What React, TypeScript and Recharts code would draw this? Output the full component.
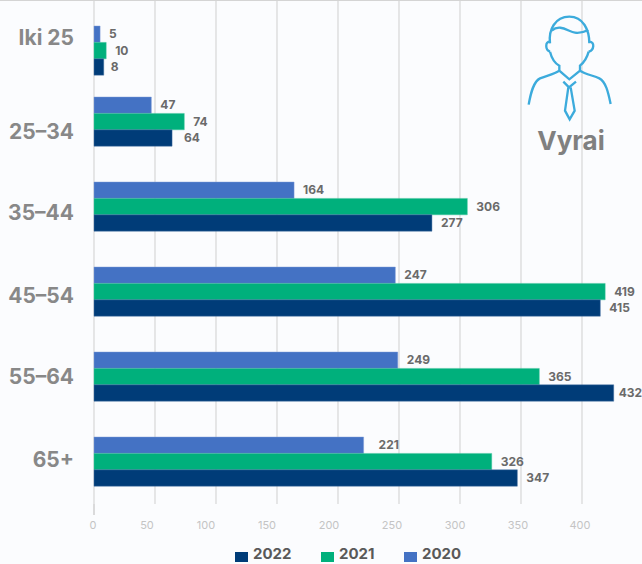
import React from 'react';
import { BarChart, Bar, XAxis, YAxis, CartesianGrid, Legend, LabelList, Rectangle } from 'recharts';

// duomenys
const categories = ['Iki 25', '25–34', '35–44', '45–54', '55–64', '65+'];
const values2020 = [5, 47, 164, 247, 249, 221];
const values2021 = [10, 74, 306, 419, 365, 326];
// 55–64 stulpelis paveiksle trumpesnis nei jo uzrasas
const values2022 = [8, 64, 277, 415, 426, 347];
const labels2022 = [8, 64, 277, 415, 432, 347];
const xTicks = [0, 50, 100, 150, 200, 250, 300, 350, 400];

const chartData = categories.map((name, i) => ({
  name,
  y2020: values2020[i],
  y2021: values2021[i],
  y2022: values2022[i],
  label2022: labels2022[i],
}));

const FONT = 'Inter, "Open Sans", sans-serif';
const COLOR_2020 = '#4472c4';
const COLOR_2021 = '#00b07c';
const COLOR_2022 = '#003c78';

// pirma grupe reference paslinkta zemyn
const groupShift = (index: number) => (index === 0 ? 14 : 0);
// asies uzrasai nesutampa su tinklelio linijomis
const xLabelShift = [-1, -8, -10, -10, -9, -7, -5, -3, -2];
const yLabelShift = [0, 9, 5, 3, -1, -3];

const BarShape = (props: any) => {
  const { x, y, width, height, fill, stroke, index } = props;
  return (
    <Rectangle
      x={x}
      y={y + groupShift(index)}
      width={width}
      height={height}
      fill={fill}
      stroke={stroke}
      strokeOpacity={0.45}
      strokeWidth={1}
    />
  );
};

const ValueLabel = (props: any) => {
  const { x, y, width, height, value, index } = props;
  const extra = value === 221 ? 6 : value === 64 ? 3 : value === 8 ? -2 : value === 432 ? -4 : 0;
  return (
    <text
      x={x + width + 9 + extra}
      y={y + height / 2 + groupShift(index) + 4}
      fontFamily={FONT}
      fontSize={12}
      fontWeight={700}
      fill="#6a6a6a"
    >
      {value}
    </text>
  );
};

const CategoryTick = ({ x, y, payload, index }: any) => (
  <text
    x={x - 12}
    y={y + yLabelShift[index] + 8}
    textAnchor="end"
    fontFamily={FONT}
    fontSize={21}
    fontWeight={700}
    fill="#888888"
  >
    {payload.value}
  </text>
);

const ValueTick = ({ x, y, payload, index }: any) => (
  <g>
    {index === 0 && <line x1={x} x2={x} y1={y - 8} y2={y + 3} stroke="#cfcfcf" strokeWidth={1.5} />}
    <text x={x + xLabelShift[index]} y={y + 17} textAnchor="middle" fontFamily={FONT} fontSize={11} fill="#c4c4c4">
      {payload.value}
    </text>
  </g>
);

const LegendContent = () => {
  const items = [
    { label: '2022', color: COLOR_2022, swatch: 235 },
    { label: '2021', color: COLOR_2021, swatch: 321 },
    { label: '2020', color: COLOR_2020, swatch: 404 },
  ];
  return (
    <div style={{ position: 'relative', width: 642, height: 20 }}>
      {items.map((it) => (
        <React.Fragment key={it.label}>
          <div style={{ position: 'absolute', left: it.swatch, top: 8, width: 13, height: 10, background: it.color }} />
          <div
            style={{
              position: 'absolute',
              left: it.swatch + 18,
              top: 0,
              fontFamily: FONT,
              fontSize: 15,
              fontWeight: 700,
              lineHeight: '20px',
              color: '#595959',
            }}
          >
            {it.label}
          </div>
        </React.Fragment>
      ))}
    </div>
  );
};

// vyro ikona
const PersonIcon = () => (
  <svg
    viewBox="0 0 426 510"
    width={142}
    height={170}
    style={{ position: 'absolute', left: 500, top: 0 }}
    fill="none"
    stroke="#3cabdc"
    strokeWidth={7}
  >
    <path d="M150 130 C145 90 165 50 208 50 C250 50 268 90 268 130" />
    <path d="M155 92 C180 70 205 95 225 98 C240 100 255 95 265 90" />
    <path d="M150 125 C135 125 135 150 150 155" />
    <path d="M268 125 C285 125 283 150 266 155" />
    <path d="M150 155 C155 175 165 190 178 197 L178 212 L208 238 L240 212 L240 197 C255 185 262 170 266 155" />
    <path d="M86 314 C92 280 100 245 120 235 C140 227 165 222 178 212" />
    <path d="M332 312 C325 280 318 245 298 235 C280 227 255 222 240 212" />
    <path d="M190 245 L207 262 L228 245" />
    <path d="M205 262 L195 332 L209 358 L224 332 L212 262" />
  </svg>
);

export default function App() {
  return (
    <div style={{ position: 'fixed', left: 0, top: 0, width: 642, height: 564, overflow: 'hidden', background: '#fbfcfe' }}>
      <div style={{ position: 'absolute', left: 0, top: -6 }}>
        <BarChart
          width={643}
          height={570}
          data={chartData}
          layout="vertical"
          barSize={16.4}
          barGap={0}
          margin={{ top: 0, right: 0, left: 0, bottom: 0 }}
        >
          <CartesianGrid horizontal={false} stroke="#cfcfcf" strokeWidth={1} />
          <XAxis
            type="number"
            domain={[0, 450]}
            ticks={xTicks}
            axisLine={false}
            tickLine={false}
            height={40}
            tick={<ValueTick />}
            interval={0}
          />
          <YAxis
            type="category"
            dataKey="name"
            width={94}
            axisLine={false}
            tickLine={false}
            tick={<CategoryTick />}
            interval={0}
          />
          <Legend
            verticalAlign="bottom"
            height={0}
            content={<LegendContent />}
            wrapperStyle={{ position: 'absolute', left: 0, top: 550, width: 642 }}
          />
          <Bar dataKey="y2020" fill={COLOR_2020} stroke="#7f9cd8" shape={<BarShape />} isAnimationActive={false}>
            <LabelList dataKey="y2020" content={<ValueLabel />} />
          </Bar>
          <Bar dataKey="y2021" fill={COLOR_2021} stroke="#3fc49c" shape={<BarShape />} isAnimationActive={false}>
            <LabelList dataKey="y2021" content={<ValueLabel />} />
          </Bar>
          <Bar dataKey="y2022" fill={COLOR_2022} stroke="#4a73a5" shape={<BarShape />} isAnimationActive={false}>
            <LabelList dataKey="label2022" content={<ValueLabel />} />
          </Bar>
        </BarChart>
      </div>
      <div style={{ position: 'absolute', left: 0, top: 0, width: 642, height: 1, background: '#d4d4d4' }} />
      <PersonIcon />
      <div
        style={{
          position: 'absolute',
          left: 500,
          top: 124,
          width: 142,
          textAlign: 'center',
          fontFamily: FONT,
          fontSize: 26,
          fontWeight: 700,
          lineHeight: '34px',
          color: '#808080',
        }}
      >
        Vyrai
      </div>
    </div>
  );
}
